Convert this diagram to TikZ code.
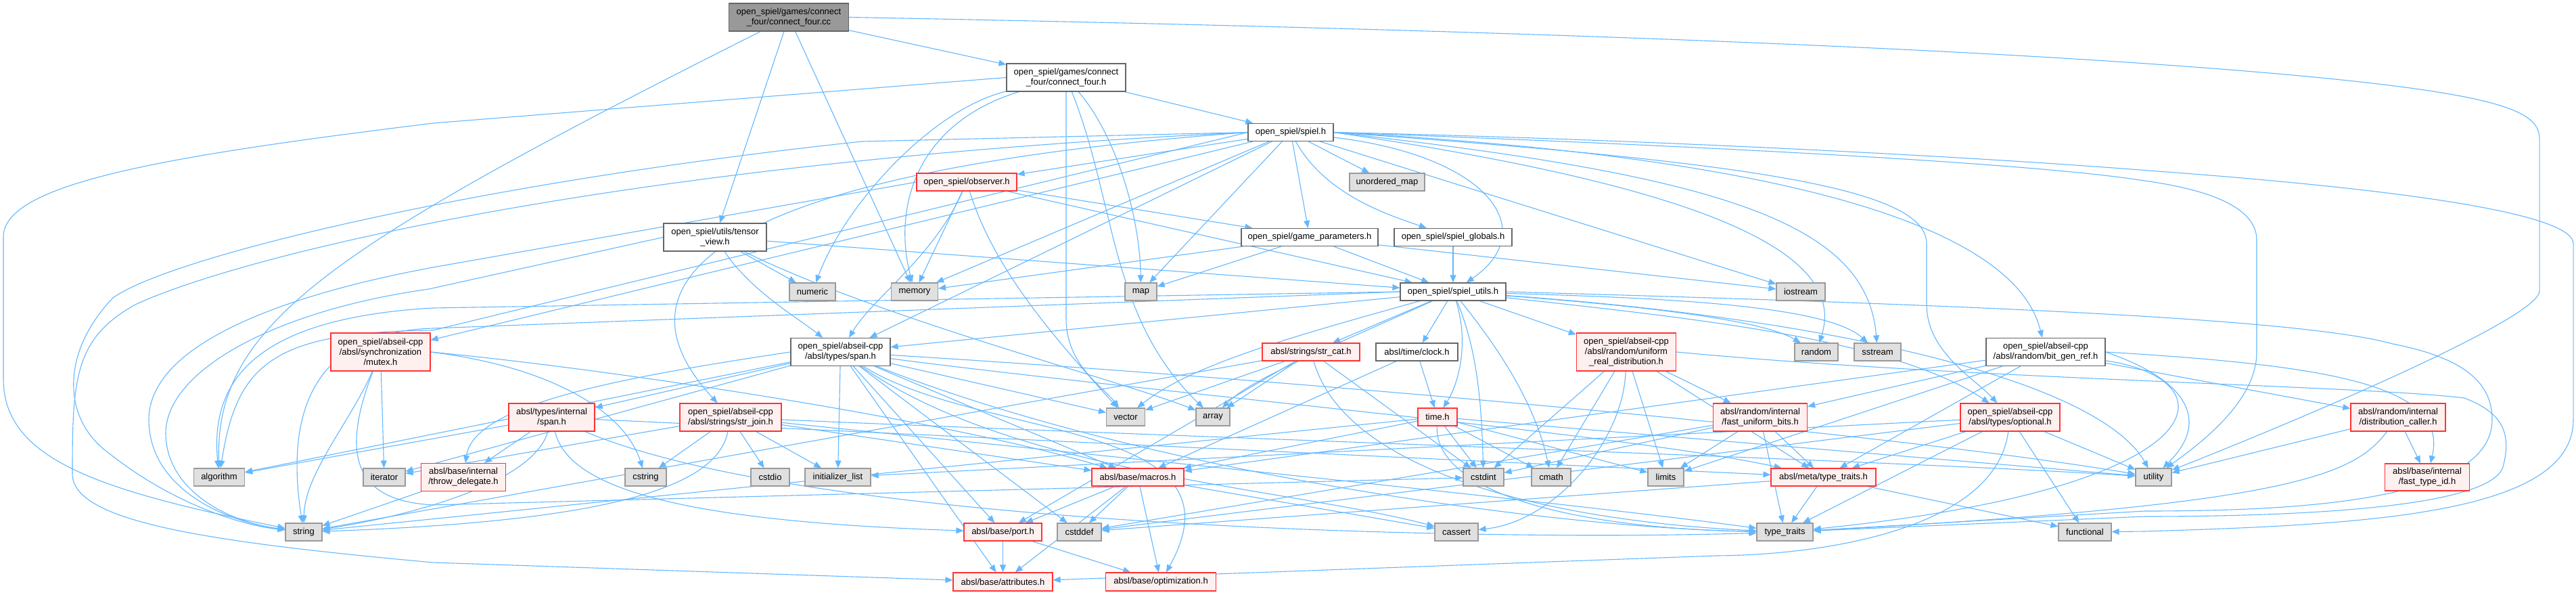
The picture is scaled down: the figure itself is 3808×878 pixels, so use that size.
\documentclass[tikz,border=0pt]{standalone}
\usepackage{fontspec}
\newfontfamily\nodefont{Liberation Sans}
\usetikzlibrary{arrows.meta}
\definecolor{edgeblue}{HTML}{63B8FF}
\definecolor{redfill}{HTML}{FFF0F0}
\definecolor{redline}{HTML}{FF3333}
\definecolor{grayfill}{HTML}{E0E0E0}
\definecolor{grayline}{HTML}{999999}
\definecolor{whiteline}{HTML}{666666}
\definecolor{rootfill}{HTML}{999999}
\tikzset{
  nd/.style={rectangle, inner sep=0pt, align=center, line width=1.2pt,
    font={\nodefont\fontsize{13}{15}\selectfont}},
  wh/.style={nd, draw=whiteline, fill=white},
  gy/.style={nd, draw=grayline, fill=grayfill},
  rd/.style={nd, draw=redline, fill=redfill},
  rt/.style={nd, draw=whiteline, fill=rootfill},
  edge/.style={draw=edgeblue, line width=1.1pt, -{Triangle[length=11pt,width=9pt]}}
}
\newcommand\mk[7]{\node[#1, minimum width=#5pt, minimum height=#6pt] (#2) at (#3,#4) {#7};}
\newcommand\allnodes{%
\mk{rt}{cc}{1166}{25.5}{177}{41}{open\_spiel/games/connect\\\_four/connect\_four.cc}
\mk{wh}{cfh}{1576}{114.5}{176}{41}{open\_spiel/games/connect\\\_four/connect\_four.h}
\mk{wh}{spiel}{1908}{195.5}{126}{26}{open\_spiel/spiel.h}
\mk{wh}{tensor}{1057}{350.5}{152}{41}{open\_spiel/utils/tensor\\\_view.h}
\mk{gy}{numeric}{1201}{431}{68}{26}{numeric}
\mk{rd}{obs}{1429}{269}{148}{26}{open\_spiel/observer.h}
\mk{wh}{gp}{1936}{350.5}{202}{26}{open\_spiel/game\_parameters.h}
\mk{gy}{umap}{2050.5}{269}{111}{26}{unordered\_map}
\mk{wh}{glob}{2148}{350.5}{174}{26}{open\_spiel/spiel\_globals.h}
\mk{wh}{utils}{2148}{431}{156}{26}{open\_spiel/spiel\_utils.h}
\mk{gy}{memory}{1352}{431}{69}{26}{memory}
\mk{gy}{map}{1686.5}{431}{47}{26}{map}
\mk{gy}{iostream}{2662}{431}{72}{26}{iostream}
\mk{rd}{mutex}{562.5}{520}{147}{56}{open\_spiel/abseil-cpp\\/absl/synchronization\\/mutex.h}
\mk{wh}{span}{1242.5}{520}{147}{41}{open\_spiel/abseil-cpp\\/absl/types/span.h}
\mk{rd}{strcat}{1938}{520}{144}{26}{absl/strings/str\_cat.h}
\mk{wh}{clock}{2094.5}{520}{121}{26}{absl/time/clock.h}
\mk{rd}{urd}{2404}{520}{147}{56}{open\_spiel/abseil-cpp\\/absl/random/uniform\\\_real\_distribution.h}
\mk{gy}{random}{2685}{520}{64}{26}{random}
\mk{gy}{sstream}{2775.5}{520}{69}{26}{sstream}
\mk{wh}{bgr}{3024}{520}{176}{41}{open\_spiel/abseil-cpp\\/absl/random/bit\_gen\_ref.h}
\mk{rd}{ispan}{815.5}{616.5}{127}{41}{absl/types/internal\\/span.h}
\mk{rd}{strjoin}{1080}{616.5}{150}{41}{open\_spiel/abseil-cpp\\/absl/strings/str\_join.h}
\mk{gy}{vector}{1664}{616}{57}{26}{vector}
\mk{gy}{array}{1793}{616}{50}{26}{array}
\mk{rd}{time}{2125}{616}{58}{26}{time.h}
\mk{rd}{fub}{2602}{616.5}{139}{41}{absl/random/internal\\/fast\_uniform\_bits.h}
\mk{rd}{opt}{2971.5}{616.5}{147}{41}{open\_spiel/abseil-cpp\\/absl/types/optional.h}
\mk{rd}{dc}{3545}{616.5}{140}{41}{absl/random/internal\\/distribution\_caller.h}
\mk{rd}{throw}{685}{705}{125}{41}{absl/base/internal\\/throw\_delegate.h}
\mk{gy}{algorithm}{324}{705}{75}{26}{algorithm}
\mk{gy}{iterator}{568}{705}{62}{26}{iterator}
\mk{gy}{cstring}{954.5}{705}{61}{26}{cstring}
\mk{gy}{cstdio}{1138.5}{705}{57}{26}{cstdio}
\mk{gy}{initlist}{1238.5}{705}{97}{26}{initializer\_list}
\mk{rd}{macros}{1682}{705}{136}{26}{absl/base/macros.h}
\mk{gy}{cstdint}{2193}{705}{60}{26}{cstdint}
\mk{gy}{cmath}{2293}{705}{58}{26}{cmath}
\mk{gy}{limits}{2462.5}{705}{53}{26}{limits}
\mk{rd}{mtt}{2695.5}{705}{155}{26}{absl/meta/type\_traits.h}
\mk{gy}{utility}{3183.5}{705}{53}{26}{utility}
\mk{rd}{fti}{3588}{705}{125}{40}{absl/base/internal\\/fast\_type\_id.h}
\mk{gy}{string}{449}{786}{54}{26}{string}
\mk{rd}{port}{1482.5}{786}{115}{26}{absl/base/port.h}
\mk{gy}{cstddef}{1595.5}{786}{65}{26}{cstddef}
\mk{gy}{cassert}{2153}{786}{64}{26}{cassert}
\mk{gy}{tt}{2638.5}{786}{83}{26}{type\_traits}
\mk{gy}{functional}{3082}{786}{78}{26}{functional}
\mk{rd}{attr}{1482.5}{859.5}{147}{27}{absl/base/attributes.h}
\mk{rd}{opti}{1716}{859.5}{163}{27}{absl/base/optimization.h}
}
\begin{document}
\begin{tikzpicture}[x=1pt,y=-1pt]
\fill[white] (0,0) rectangle (3808,878);
\useasboundingbox (0,0) rectangle (3808,878);
% ---------- nodes placed invisibly first so that edges can use their names
\begin{scope}[opacity=0]
\allnodes
\end{scope}
% ---------- edges
% cc
\draw[edge] (cc) -- (cfh);
\draw[edge] (cc) -- (tensor);
\draw[edge] (cc) -- (memory);
\draw[edge] (cc) .. controls (480,370) and (318,480) .. (algorithm);
\draw[edge] (cc.east) .. controls (2300,45) and (3000,75) .. (3400,112) .. controls (3700,140) and (3754,165) .. (3754,205) -- (3754,430) .. controls (3754,470) and (3400,620) .. (utility);
% cfh
\draw[edge] (cfh) -- (spiel);
\draw[edge] (cfh.west) -- (640,182) .. controls (250,230) and (5,270) .. (5,350) -- (5,560) .. controls (5,680) and (150,725) .. (string);
\draw[edge] (cfh) .. controls (1360,180) and (1318,300) .. (memory);
\draw[edge] (cfh) .. controls (1380,160) and (1250,300) .. (numeric);
\draw[edge] (cfh.south) -- (1576,470) .. controls (1576,540) and (1630,570) .. (vector);
\draw[edge] (cfh) .. controls (1650,300) and (1640,470) .. (array);
\draw[edge] (cfh) .. controls (1650,200) and (1685,320) .. (map);
% spiel
\draw[edge] (spiel) -- (obs);
\draw[edge] (spiel) -- (gp);
\draw[edge] (spiel) -- (umap);
\draw[edge] (spiel) .. controls (1960,290) and (2060,320) .. (glob);
\draw[edge] (spiel) .. controls (2200,230) and (2280,340) .. (utils);
\draw[edge] (spiel) -- (memory);
\draw[edge] (spiel) -- (map);
\draw[edge] (spiel) -- (iostream);
\draw[edge] (spiel.east) .. controls (2550,280) and (2730,380) .. (random);
\draw[edge] (spiel.east) .. controls (2550,260) and (2760,330) .. (sstream);
\draw[edge] (spiel.east) .. controls (2800,240) and (2990,380) .. (bgr);
\draw[edge] (spiel.east) .. controls (2600,240) and (2848,280) .. (2848,360) -- (2848,450) .. controls (2848,520) and (2920,560) .. (opt);
\draw[edge] (spiel.east) .. controls (2500,215) and (3000,240) .. (3170,267) .. controls (3300,285) and (3336,320) .. (3336,355) -- (3336,520) .. controls (3336,590) and (3260,650) .. (utility);
\draw[edge] (spiel.east) .. controls (2400,205) and (2900,230) .. (3176,252) .. controls (3600,283) and (3804,320) .. (3804,360) -- (3804,620) .. controls (3804,760) and (3500,775) .. (3170,785) -- (functional);
\draw[edge] (spiel) -- (mutex);
\draw[edge] (spiel) -- (span);
\draw[edge] (spiel.west) .. controls (1100,250) and (880,400) .. (strjoin);
\draw[edge] (spiel.west) -- (1274,209) .. controls (700,270) and (250,380) .. (167,440) .. controls (90,520) and (90,620) .. (163,671) .. controls (250,740) and (350,775) .. (string);
\draw[edge] (spiel.west) .. controls (900,240) and (350,380) .. (200,450) .. controls (110,500) and (107,560) .. (107,700) .. controls (107,770) and (300,800) .. (640,831) -- (attr);
\draw[edge] (spiel.west) -- (640,488) .. controls (400,490) and (350,540) .. (algorithm);
% obs
\draw[edge] (obs) -- (gp);
\draw[edge] (obs) -- (utils);
\draw[edge] (obs) -- (memory);
\draw[edge] (obs) .. controls (1470,400) and (1560,500) .. (vector);
\draw[edge] (obs) .. controls (1380,380) and (1290,440) .. (span);
\draw[edge] (obs.west) -- (640,395) .. controls (450,430) and (220,500) .. (220,620) .. controls (220,720) and (330,770) .. (string);
% gp
\draw[edge] (gp) -- (utils);
\draw[edge] (gp) -- (memory);
\draw[edge] (gp) -- (map);
\draw[edge] (gp) -- (iostream);
% glob
\draw[edge] (glob) -- (utils);
% tensor
\draw[edge] (tensor) -- (numeric);
\draw[edge] (tensor) -- (utils);
\draw[edge] (tensor) .. controls (1110,430) and (1180,470) .. (span);
\draw[edge] (tensor) .. controls (1300,470) and (1650,560) .. (array);
\draw[edge] (tensor.west) -- (634,427) .. controls (400,460) and (245,550) .. (245,640) .. controls (245,720) and (330,770) .. (string);
% utils
\draw[edge] (utils) -- (strcat);
\draw[edge] (utils) -- (clock);
\draw[edge] (utils) .. controls (2170,500) and (2160,560) .. (time);
\draw[edge] (utils) .. controls (2185,520) and (2190,600) .. (cstdint);
\draw[edge] (utils) .. controls (2220,520) and (2270,600) .. (cmath);
\draw[edge] (utils) -- (urd);
\draw[edge] (utils) .. controls (2400,450) and (2600,470) .. (random);
\draw[edge] (utils) .. controls (2450,440) and (2700,450) .. (sstream);
\draw[edge] (utils) .. controls (2500,470) and (2800,500) .. (opt);
\draw[edge] (utils) .. controls (2700,470) and (3100,560) .. (utility);
\draw[edge] (utils.east) .. controls (2900,450) and (3400,470) .. (3537,508) .. controls (3650,530) and (3684,570) .. (3684,620) .. controls (3684,740) and (3400,755) .. (3170,755) -- (tt);
\draw[edge] (utils.west) -- (640,455) .. controls (380,470) and (310,560) .. (algorithm);
\draw[edge] (utils.west) -- (640,485) .. controls (470,490) and (420,600) .. (string);
\draw[edge] (utils) .. controls (1900,500) and (1760,540) .. (vector);
\draw[edge] (utils) .. controls (1950,520) and (1850,560) .. (array);
\draw[edge] (utils) -- (span);
% mutex
\draw[edge] (mutex) .. controls (520,620) and (450,700) .. (string);
\draw[edge] (mutex) -- (iterator);
\draw[edge] (mutex.east) .. controls (800,540) and (920,600) .. (cstring);
\draw[edge] (mutex) .. controls (500,680) and (530,740) .. (640,746) -- (cstdint);
\draw[edge] (mutex.east) .. controls (900,545) and (1400,620) .. (macros);
% span
\draw[edge] (span) -- (algorithm);
\draw[edge] (span) -- (iterator);
\draw[edge] (span) -- (initlist);
\draw[edge] (span.west) .. controls (900,560) and (700,600) .. (throw);
\draw[edge] (span) -- (ispan);
\draw[edge] (span) -- (macros);
\draw[edge] (span) -- (port);
\draw[edge] (span) -- (cstddef);
\draw[edge] (span) -- (attr);
\draw[edge] (span) .. controls (1450,650) and (1850,620) .. (opti);
\draw[edge] (span) -- (vector);
\draw[edge] (span) .. controls (1500,700) and (1900,720) .. (cassert);
\draw[edge] (span) .. controls (1700,580) and (2400,640) .. (mtt);
\draw[edge] (span) .. controls (1700,700) and (2300,780) .. (tt);
\draw[edge] (span) .. controls (1900,560) and (2800,640) .. (utility);
% ispan
\draw[edge] (ispan) -- (algorithm);
\draw[edge] (ispan) -- (throw);
\draw[edge] (ispan) .. controls (790,710) and (620,760) .. (string);
\draw[edge] (ispan) .. controls (840,720) and (1000,770) .. (port);
\draw[edge] (ispan) -- (mtt);
\draw[edge] (ispan) .. controls (1200,780) and (2200,800) .. (tt);
% strjoin
\draw[edge] (strjoin) -- (cstring);
\draw[edge] (strjoin) -- (cstdio);
\draw[edge] (strjoin) -- (initlist);
\draw[edge] (strjoin) -- (iterator);
\draw[edge] (strjoin) .. controls (1060,720) and (900,770) .. (string);
\draw[edge] (strjoin) -- (macros);
\draw[edge] (strjoin) .. controls (1600,640) and (2800,680) .. (utility);
\draw[edge] (strjoin) .. controls (1500,660) and (2300,740) .. (tt);
% strcat
\draw[edge] (strcat) -- (vector);
\draw[edge] (strcat) -- (array);
\draw[edge] (strcat) -- (cstdint);
\draw[edge] (strcat) -- (port);
\draw[edge] (strcat) .. controls (1990,700) and (2300,770) .. (tt);
\draw[edge] (strcat) -- (string);
% clock
\draw[edge] (clock) -- (time);
\draw[edge] (clock) -- (macros);
% time
\draw[edge] (time) -- (cstdint);
\draw[edge] (time) -- (cmath);
\draw[edge] (time) -- (limits);
\draw[edge] (time) -- (string);
\draw[edge] (time) -- (macros);
\draw[edge] (time) .. controls (2120,720) and (2300,780) .. (tt);
\draw[edge] (time) -- (utility);
% urd
\draw[edge] (urd) -- (cstdint);
\draw[edge] (urd) -- (cmath);
\draw[edge] (urd) .. controls (2400,650) and (2300,770) .. (cassert);
\draw[edge] (urd) -- (limits);
\draw[edge] (urd) -- (fub);
\draw[edge] (urd) -- (mtt);
\draw[edge] (urd.east) .. controls (2900,560) and (3500,570) .. (3643,588) .. controls (3700,610) and (3713,640) .. (3700,690) .. controls (3680,750) and (3400,763) .. (3170,763) -- (tt);
% fub
\draw[edge] (fub) -- (cstdint);
\draw[edge] (fub) -- (limits);
\draw[edge] (fub) -- (mtt);
\draw[edge] (fub) -- (tt);
\draw[edge] (fub) -- (cstddef);
% opt
\draw[edge] (opt) -- (mtt);
\draw[edge] (opt) -- (tt);
\draw[edge] (opt) -- (functional);
\draw[edge] (opt) -- (utility);
\draw[edge] (opt) -- (initlist);
\draw[edge] (opt) .. controls (2950,780) and (2700,820) .. (2536,821) -- (attr);
\draw[edge] (opt) -- (cstddef);
% bgr
\draw[edge] (bgr) -- (limits);
\draw[edge] (bgr) -- (fub);
\draw[edge] (bgr) -- (mtt);
\draw[edge] (bgr) -- (dc);
\draw[edge] (bgr.east) .. controls (3450,540) and (3620,570) .. (fti);
\draw[edge] (bgr.east) .. controls (3230,560) and (3270,620) .. (utility);
\draw[edge] (bgr) .. controls (3300,560) and (3290,720) .. (tt);
\draw[edge] (bgr) -- (macros);
% dc
\draw[edge] (dc) -- (utility);
\draw[edge] (dc) -- (fti);
\draw[edge] (dc) .. controls (3480,700) and (3400,745) .. (tt);
% mtt
\draw[edge] (mtt) -- (tt);
\draw[edge] (mtt) -- (functional);
\draw[edge] (mtt) -- (cstddef);
% macros
\draw[edge] (macros) -- (port);
\draw[edge] (macros) -- (cstddef);
\draw[edge] (macros) -- (attr);
\draw[edge] (macros) -- (opti);
\draw[edge] (macros) -- (cassert);
% port
\draw[edge] (port) -- (attr);
\draw[edge] (port) -- (opti);
% throw
\draw[edge] (throw) -- (string);
% ---------- nodes on top of the edges
\allnodes
\end{tikzpicture}
\end{document}
